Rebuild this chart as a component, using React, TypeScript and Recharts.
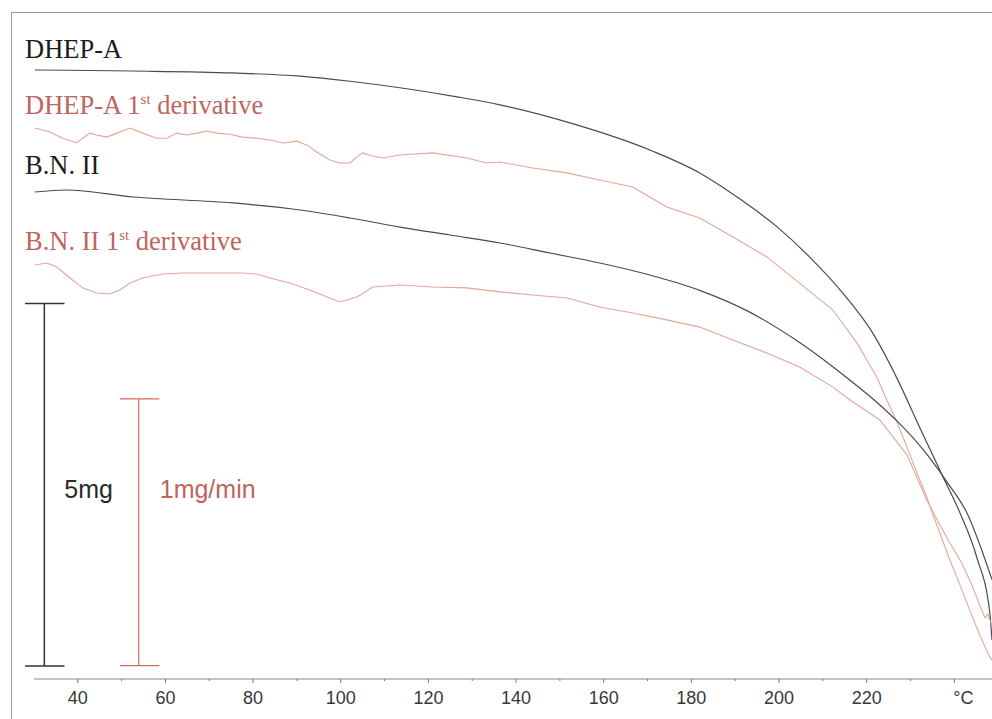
import React from "react";
import {
  LineChart,
  Line,
  XAxis,
  YAxis,
  Legend,
  ReferenceLine,
  ReferenceDot,
} from "recharts";

// TGA traces (temperature in °C, mass in mg, rate in mg/min, offsets arbitrary)
const dhepTemp = [30.2, 52.7, 75.4, 90.7, 102.1, 113.5, 126.5, 136.3, 152.9, 171.2, 181.9, 191.1, 199.5, 207.0, 214.6, 221.4, 226.9, 232.1, 237.4, 241.3, 245.1, 248.1, 248.6];
const dhepMass = [8.4, 8.386, 8.359, 8.315, 8.245, 8.155, 8.03, 7.92, 7.66, 7.28, 6.98, 6.62, 6.24, 5.82, 5.32, 4.77, 4.15, 3.47, 2.79, 2.29, 1.683, 0.91, 0.538];

const bnTemp = [30.2, 37.4, 52.7, 75.4, 90.7, 102.1, 113.5, 124.9, 136.3, 147.7, 159.1, 170.5, 181.9, 193.3, 204.7, 216.2, 223.0, 226.9, 232.8, 238.3, 242.8, 248.6];
const bnMass = [6.717, 6.745, 6.648, 6.566, 6.469, 6.359, 6.234, 6.124, 6.014, 5.876, 5.738, 5.572, 5.36, 5.06, 4.64, 4.12, 3.78, 3.56, 3.17, 2.72, 2.3, 1.37];

const dhepDerivTemp = [30.2, 33.6, 36.6, 39.8, 41.1, 42.7, 44.3, 46.6, 48.9, 51.9, 54.8, 58.0, 60.3, 62.6, 64.9, 67.2, 69.4, 71.7, 74.7, 77.6, 80.8, 83.8, 86.8, 90.0, 92.3, 94.5, 97.5, 99.8, 102.1, 103.7, 105.0, 107.3, 109.6, 113.5, 121.0, 128.8, 133.3, 136.3, 143.8, 151.6, 159.1, 166.6, 174.4, 181.9, 189.5, 197.2, 204.7, 212.3, 217.8, 222.3, 224.6, 226.9, 229.2, 231.4, 233.7, 236.0, 239.0, 241.3, 243.5, 245.8, 248.1, 248.6];
const dhepDeriv = [2.065, 2.05, 2.027, 2.009, 2.027, 2.046, 2.039, 2.031, 2.046, 2.065, 2.046, 2.027, 2.027, 2.046, 2.039, 2.046, 2.054, 2.046, 2.042, 2.031, 2.027, 2.02, 2.009, 2.016, 2.001, 1.975, 1.945, 1.934, 1.934, 1.957, 1.972, 1.96, 1.953, 1.964, 1.972, 1.953, 1.934, 1.938, 1.915, 1.897, 1.87, 1.844, 1.769, 1.728, 1.657, 1.582, 1.484, 1.383, 1.259, 1.132, 1.046, 0.963, 0.87, 0.776, 0.682, 0.577, 0.446, 0.352, 0.259, 0.165, 0.082, 0.071];

const bnDerivTemp = [30.2, 32.9, 35.2, 38.2, 41.1, 44.3, 47.3, 49.6, 51.9, 54.8, 59.4, 64.0, 68.5, 73.1, 77.6, 80.8, 83.8, 88.4, 92.9, 97.5, 99.8, 103.7, 107.3, 113.5, 121.0, 128.8, 136.3, 143.8, 151.6, 159.1, 166.6, 174.4, 181.9, 189.5, 197.2, 204.7, 212.3, 216.2, 223.0, 229.2, 233.7, 236.7, 239.0, 241.7, 244.0, 245.8, 247.0, 247.6, 248.6];
const bnDeriv = [1.552, 1.559, 1.544, 1.503, 1.466, 1.447, 1.443, 1.458, 1.484, 1.503, 1.518, 1.522, 1.522, 1.522, 1.522, 1.518, 1.503, 1.484, 1.458, 1.428, 1.413, 1.432, 1.469, 1.477, 1.469, 1.466, 1.451, 1.439, 1.428, 1.394, 1.372, 1.346, 1.319, 1.271, 1.222, 1.169, 1.094, 1.046, 0.971, 0.84, 0.671, 0.577, 0.51, 0.435, 0.352, 0.277, 0.229, 0.244, 0.199];

const tempTicks = [40, 50, 60, 70, 80, 90, 100, 110, 120, 130, 140, 150, 160, 170, 180, 190, 200, 210, 220, 230, 240];

const seriesNames = ["DHEP-A", "DHEP-A 1st derivative", "B.N. II", "B.N. II 1st derivative"];

// scale bars: 5 mg on the mass axis, 1 mg/min on the rate axis
const massBar = { t: 32.36, from: 0.18, size: 5 };
const rateBar = { t: 53.9, from: 0.05, size: 1 };

const zip = (ts: number[], vs: number[]) => ts.map((t, i) => ({ t, v: vs[i] }));

const darkLine = "#454b57";
const pinkLine = "#e0a898";
const labelRed = "#c0645c";
const sansFont = "'Liberation Sans', Arial, sans-serif";
const serifFont = "'Liberation Serif', 'Times New Roman', serif";

const legendTop: Record<string, number> = {
  "DHEP-A": 36,
  "DHEP-A 1st derivative": 92,
  "B.N. II": 152,
  "B.N. II 1st derivative": 228,
};

function renderName(name: string) {
  const parts = name.split("1st");
  if (parts.length < 2) return name;
  return (
    <>
      {parts[0]}1
      <span style={{ fontSize: 15, position: "relative", top: -10 }}>st</span>
      {parts[1]}
    </>
  );
}

function LegendLabels(props: any) {
  const { payload = [] } = props;
  return (
    <div style={{ position: "relative", width: 0, height: 0 }}>
      {payload.map((entry: any) => (
        <div
          key={entry.value}
          style={{
            position: "absolute",
            left: 25,
            top: legendTop[entry.value],
            whiteSpace: "nowrap",
            fontFamily: serifFont,
            fontSize: 26.5,
            lineHeight: "26px",
            color: entry.value.includes("derivative") ? labelRed : "#1c1c1c",
          }}
        >
          {renderName(entry.value)}
        </div>
      ))}
    </div>
  );
}

function TempTick(props: any) {
  const { x, y, payload } = props;
  const major = payload.value % 20 === 0;
  const text = payload.value === 240 ? "°C" : major ? String(payload.value) : "";
  return (
    <g>
      <line x1={x} x2={x} y1={y} y2={y + (major ? 4 : 2)} stroke="#777" strokeWidth={1} />
      {text && (
        <text
          x={payload.value === 240 ? x + 9 : x}
          y={y + 25}
          textAnchor="middle"
          fill="#383838"
          fontSize={18}
          fontFamily={sansFont}
        >
          {text}
        </text>
      )}
    </g>
  );
}

function App() {
  return (
    <div
      style={{
        position: "fixed",
        left: 0,
        top: 0,
        width: 992,
        height: 719,
        overflow: "hidden",
        background: "#fff",
      }}
    >
      <div
        style={{
          position: "absolute",
          left: 11,
          top: 12,
          width: 1200,
          height: 900,
          border: "1px solid #9a9a9a",
        }}
      />
      <div style={{ position: "absolute", left: 0, top: 0 }}>
        <LineChart width={992} height={719} margin={{ top: 12, right: 0, bottom: 0, left: 34 }}>
          <XAxis
            type="number"
            dataKey="t"
            domain={[30, 248.6]}
            allowDataOverflow
            ticks={tempTicks}
            interval={0}
            height={40}
            axisLine={{ stroke: "#888" }}
            tickLine={false}
            tickSize={0}
            tickMargin={0}
            tick={<TempTick />}
          />
          <YAxis yAxisId="mass" hide domain={[0, 9.2]} allowDataOverflow />
          <YAxis yAxisId="rate" hide domain={[0, 2.5]} allowDataOverflow />
          <Legend
            content={<LegendLabels />}
            wrapperStyle={{ left: 0, top: 0, bottom: "auto", width: 0, height: 0 }}
          />

          <Line
            data={zip(dhepTemp, dhepMass)}
            yAxisId="mass"
            dataKey="v"
            name={seriesNames[0]}
            type="monotone"
            stroke={darkLine}
            strokeWidth={1.2}
            dot={false}
            isAnimationActive={false}
          />
          <Line
            data={zip(dhepDerivTemp, dhepDeriv)}
            yAxisId="rate"
            dataKey="v"
            name={seriesNames[1]}
            type="linear"
            stroke={pinkLine}
            strokeWidth={1.1}
            dot={false}
            isAnimationActive={false}
          />
          <Line
            data={zip(bnTemp, bnMass)}
            yAxisId="mass"
            dataKey="v"
            name={seriesNames[2]}
            type="monotone"
            stroke={darkLine}
            strokeWidth={1.2}
            dot={false}
            isAnimationActive={false}
          />
          <Line
            data={zip(bnDerivTemp, bnDeriv)}
            yAxisId="rate"
            dataKey="v"
            name={seriesNames[3]}
            type="linear"
            stroke={pinkLine}
            strokeWidth={1.1}
            dot={false}
            isAnimationActive={false}
          />

          {/* 5 mg scale bar */}
          <ReferenceLine
            yAxisId="mass"
            ifOverflow="visible"
            stroke="#333"
            strokeWidth={1.5}
            segment={[
              { x: massBar.t, y: massBar.from },
              { x: massBar.t, y: massBar.from + massBar.size },
            ]}
          />
          <ReferenceLine
            yAxisId="mass"
            ifOverflow="visible"
            stroke="#333"
            strokeWidth={1.5}
            segment={[
              { x: massBar.t - 4.4, y: massBar.from + massBar.size },
              { x: massBar.t + 4.6, y: massBar.from + massBar.size },
            ]}
          />
          <ReferenceLine
            yAxisId="mass"
            ifOverflow="visible"
            stroke="#333"
            strokeWidth={1.5}
            segment={[
              { x: massBar.t - 4.4, y: massBar.from },
              { x: massBar.t + 4.6, y: massBar.from },
            ]}
          />
          <ReferenceDot
            yAxisId="mass"
            x={massBar.t}
            y={2.62}
            r={0}
            fill="none"
            stroke="none"
            ifOverflow="visible"
            label={{
              value: "5mg",
              position: "right",
              offset: 20,
              fill: "#2a2a2a",
              fontSize: 25,
              fontFamily: sansFont,
            }}
          />

          {/* 1 mg/min scale bar */}
          <ReferenceLine
            yAxisId="rate"
            ifOverflow="visible"
            stroke="#d86a5c"
            strokeWidth={1.2}
            segment={[
              { x: rateBar.t, y: rateBar.from },
              { x: rateBar.t, y: rateBar.from + rateBar.size },
            ]}
          />
          <ReferenceLine
            yAxisId="rate"
            ifOverflow="visible"
            stroke="#d86a5c"
            strokeWidth={1.2}
            segment={[
              { x: rateBar.t - 4.3, y: rateBar.from + rateBar.size },
              { x: rateBar.t + 4.7, y: rateBar.from + rateBar.size },
            ]}
          />
          <ReferenceLine
            yAxisId="rate"
            ifOverflow="visible"
            stroke="#d86a5c"
            strokeWidth={1.2}
            segment={[
              { x: rateBar.t - 4.3, y: rateBar.from },
              { x: rateBar.t + 4.7, y: rateBar.from },
            ]}
          />
          <ReferenceDot
            yAxisId="mass"
            x={rateBar.t}
            y={2.62}
            r={0}
            fill="none"
            stroke="none"
            ifOverflow="visible"
            label={{
              value: "1mg/min",
              position: "right",
              offset: 21,
              fill: labelRed,
              fontSize: 25,
              fontFamily: sansFont,
            }}
          />
        </LineChart>
      </div>
    </div>
  );
}

export default App;
